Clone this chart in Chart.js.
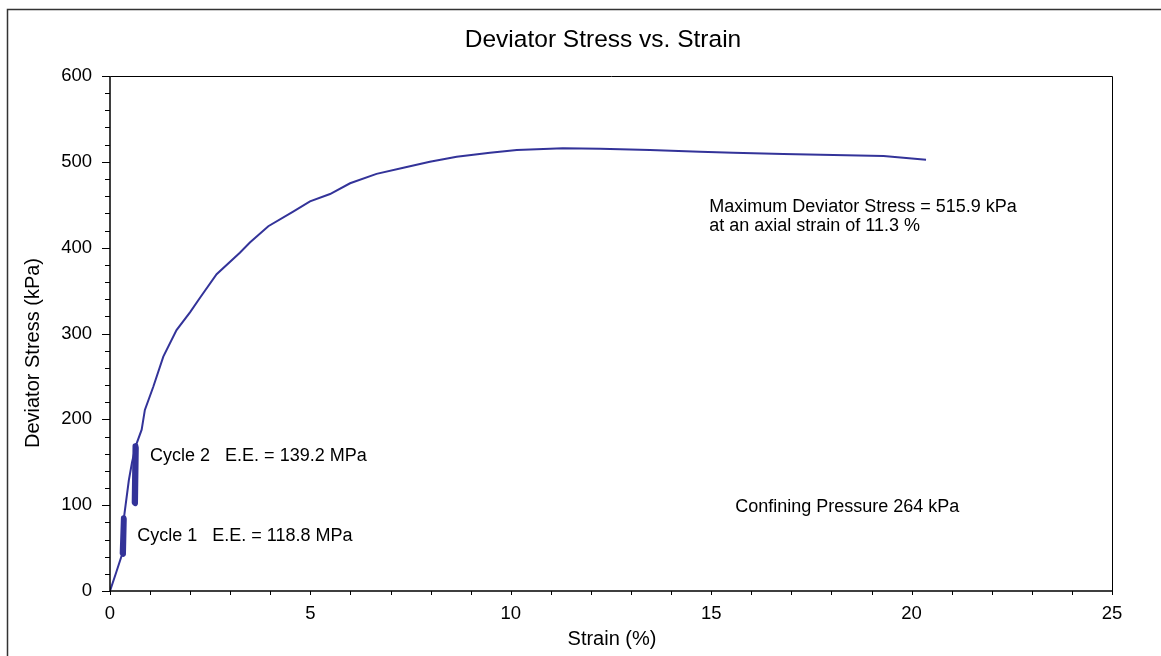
<!DOCTYPE html>
<html>
<head>
<meta charset="utf-8">
<script src="https://cdn.jsdelivr.net/npm/chart.js@4.4.1/dist/chart.umd.min.js"></script>
<style>
  html, body { margin: 0; padding: 0; background: #fff; }
  #wrap { position: relative; width: 1161px; height: 656px; }
</style>
</head>
<body>
<div id="wrap"><canvas id="stressChart" width="1161" height="656"></canvas></div>
<script>
// strain (%) and deviator stress (kPa) along the loading curve
const strain = [0, 0.15, 0.31, 0.35, 0.47, 0.55, 0.65, 0.79, 0.87, 1.08, 1.33, 1.66, 2.0, 2.25, 2.66, 3.24,
    3.49, 3.95, 4.57, 4.99, 5.49, 5.99, 6.65, 7.32, 7.98, 8.65, 9.48, 10.15, 10.98, 11.3, 12.23, 13.47,
    14.72, 15.55, 16.8, 18.05, 19.3, 20.36];
const stress = [0, 21, 44, 86, 129, 150, 170, 188, 211, 238, 273, 304, 325, 342, 369, 394,
    406, 425, 442, 454, 462.5, 475, 486, 493, 500, 506, 510.7, 513.8, 515.3, 515.9, 515.3, 513.8,
    511.8, 510.7, 509, 508, 506.8, 502.5];

// unload / reload loops
const cycle1Strain = [0.34, 0.31, 0.33, 0.35, 0.32, 0.34];
const cycle1Stress = [85, 44, 43, 84, 45, 85];
const cycle2Strain = [0.63, 0.61, 0.63, 0.65, 0.62, 0.64];
const cycle2Stress = [169, 103, 102, 167, 104, 169];

const xTicks = [0, 5, 10, 15, 20, 25];
const yTicks = [0, 100, 200, 300, 400, 500, 600];

const notes = [
    { x: 1.0, y: 157, text: 'Cycle 2   E.E. = 139.2 MPa' },
    { x: 0.68, y: 64, text: 'Cycle 1   E.E. = 118.8 MPa' },
    { x: 14.95, y: 447, text: 'Maximum Deviator Stress = 515.9 kPa' },
    { x: 14.95, y: 425, text: 'at an axial strain of 11.3 %' },
    { x: 15.6, y: 98, text: 'Confining Pressure 264 kPa' },
];

const LINE = '#333399';
const FONT = '"Liberation Sans", Arial, sans-serif';

function pts(xs, ys) {
    return xs.map((x, i) => ({ x, y: ys[i] }));
}

// frame, minor ticks, titles and text notes
const decorations = {
    id: 'decorations',
    beforeDraw(chart) {
        const ctx = chart.ctx;
        ctx.save();
        ctx.fillStyle = '#fff';
        ctx.fillRect(0, 0, chart.width, chart.height);
        ctx.strokeStyle = '#333';
        ctx.lineWidth = 1.5;
        ctx.strokeRect(7.5, 9.5, chart.width + 10, chart.height + 10);
        ctx.restore();
    },
    afterDraw(chart) {
        const ctx = chart.ctx;
        const xs = chart.scales.x, ys = chart.scales.y;
        const a = chart.chartArea;
        ctx.save();
        ctx.strokeStyle = '#000';
        ctx.lineWidth = 1;
        ctx.beginPath();
        ctx.moveTo(a.left + 0.5, a.top + 0.5);
        ctx.lineTo(a.right + 0.5, a.top + 0.5);
        ctx.lineTo(a.right + 0.5, a.bottom + 0.5);
        ctx.stroke();
        ctx.lineWidth = 1.5;
        ctx.beginPath();
        ctx.moveTo(a.left, a.top);
        ctx.lineTo(a.left, a.bottom);
        ctx.lineTo(a.right, a.bottom);
        ctx.stroke();
        ctx.lineWidth = 1;
        ctx.beginPath();
        for (let v = 0; v <= 25; v++) {
            const px = Math.round(xs.getPixelForValue(v)) + 0.5;
            ctx.moveTo(px, a.bottom);
            ctx.lineTo(px, a.bottom + 4);
        }
        for (let v = 0; v <= 600; v += 20) {
            const py = Math.round(ys.getPixelForValue(v)) + 0.5;
            ctx.moveTo(a.left - (v % 100 === 0 ? 8 : 5), py);
            ctx.lineTo(a.left, py);
        }
        ctx.stroke();

        ctx.fillStyle = '#000';
        ctx.textBaseline = 'middle';
        ctx.textAlign = 'center';
        ctx.font = '24.5px ' + FONT;
        ctx.fillText('Deviator Stress vs. Strain', 603, 40);
        ctx.font = '20px ' + FONT;
        ctx.fillText('Strain (%)', (a.left + a.right) / 2 + 1, 639);
        ctx.save();
        ctx.translate(33, 353);
        ctx.rotate(-Math.PI / 2);
        ctx.fillText('Deviator Stress (kPa)', 0, 0);
        ctx.restore();

        ctx.textAlign = 'left';
        ctx.font = '18px ' + FONT;
        notes.forEach(n => {
            ctx.fillText(n.text, xs.getPixelForValue(n.x), ys.getPixelForValue(n.y));
        });
        ctx.restore();
    }
};

const loopStyle = {
    showLine: true, borderColor: LINE, borderWidth: 5.5, pointRadius: 0,
    borderCapStyle: 'round', borderJoinStyle: 'round',
};

new Chart(document.getElementById('stressChart'), {
    type: 'scatter',
    data: {
        datasets: [
            { data: pts(strain, stress), showLine: true, borderColor: LINE, borderWidth: 2, pointRadius: 0 },
            Object.assign({ data: pts(cycle1Strain, cycle1Stress) }, loopStyle),
            Object.assign({ data: pts(cycle2Strain, cycle2Stress) }, loopStyle),
        ],
    },
    options: {
        responsive: false,
        animation: false,
        layout: { padding: { left: 0, right: 49, top: 76, bottom: 0 } },
        plugins: { legend: { display: false }, tooltip: { enabled: false } },
        scales: {
            x: {
                type: 'linear',
                min: 0, max: 25,
                afterBuildTicks: s => { s.ticks = xTicks.map(v => ({ value: v })); },
                afterFit: s => { s.height = 65; },
                grid: { display: false, drawTicks: false },
                border: { display: false },
                ticks: { color: '#000', font: { family: FONT, size: 18.5 }, padding: 12, maxRotation: 0 },
            },
            y: {
                type: 'linear',
                min: 0, max: 600,
                afterBuildTicks: s => { s.ticks = yTicks.map(v => ({ value: v })); },
                afterFit: s => { s.width = 110; },
                grid: { display: false, drawTicks: false },
                border: { display: false },
                ticks: { color: '#000', font: { family: FONT, size: 18.5 }, padding: 18 },
            },
        },
    },
    plugins: [decorations],
});
</script>
</body>
</html>
